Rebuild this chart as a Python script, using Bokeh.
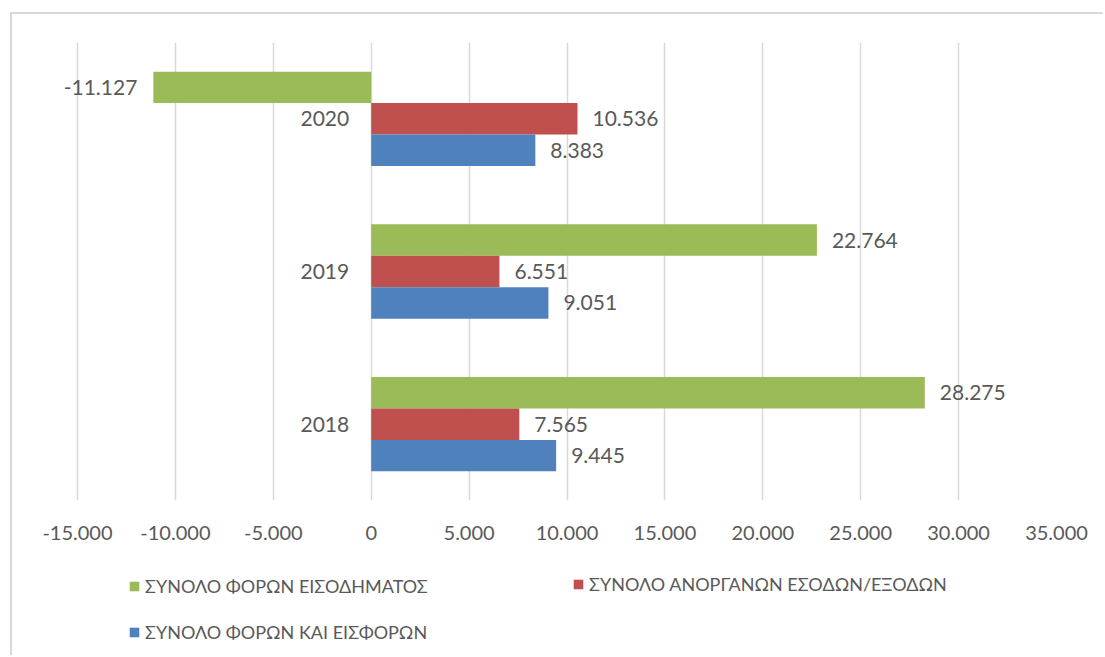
from bokeh.plotting import figure
from bokeh.layouts import column
from bokeh.models import (ColumnDataSource, FactorRange, FixedTicker, Legend, LegendItem)
from bokeh.transform import dodge
from bokeh.core.properties import value
from bokeh.embed import file_html
from bokeh.resources import INLINE

years = ["2018", "2019", "2020"]
income_tax = [28275, 22764, -11127]       # ΣΥΝΟΛΟ ΦΟΡΩΝ ΕΙΣΟΔΗΜΑΤΟΣ
inorganic = [7565, 6551, 10536]           # ΣΥΝΟΛΟ ΑΝΟΡΓΑΝΩΝ ΕΣΟΔΩΝ/ΕΞΟΔΩΝ
taxes_contrib = [9445, 9051, 8383]        # ΣΥΝΟΛΟ ΦΟΡΩΝ ΚΑΙ ΕΙΣΦΟΡΩΝ
series_names = ["ΣΥΝΟΛΟ ΦΟΡΩΝ ΕΙΣΟΔΗΜΑΤΟΣ",
                "ΣΥΝΟΛΟ ΑΝΟΡΓΑΝΩΝ ΕΣΟΔΩΝ/ΕΞΟΔΩΝ",
                "ΣΥΝΟΛΟ ΦΟΡΩΝ ΚΑΙ ΕΙΣΦΟΡΩΝ"]
x_ticks = [-15000, -10000, -5000, 0, 5000, 10000, 15000, 20000, 25000, 30000, 35000]

FONT = "Lato"
TXT = "#595959"
colors = ["#9BBB59", "#C0504D", "#4F81BD"]
offsets = [0.206, 0.0, -0.206]
bar_h = 0.206


def fmt(v):
    return f"{v:,}".replace(",", ".")


p = figure(width=1085, height=546, y_range=FactorRange(factors=years, range_padding=0),
           x_range=(-18218, 35000), output_backend="svg", toolbar_location=None,
           min_border_left=2, min_border_right=41, min_border_top=28, min_border_bottom=60)
p.outline_line_color = None
p.yaxis.visible = False
p.ygrid.grid_line_color = None
p.xgrid.grid_line_color = "#D9D9D9"
p.xgrid.grid_line_width = 1.5
p.xaxis.ticker = FixedTicker(ticks=x_ticks)
p.xaxis.major_label_overrides = {t: fmt(t) for t in x_ticks}
p.xaxis.axis_line_color = None
p.xaxis.major_tick_line_color = None
p.xaxis.minor_tick_line_color = None
p.xaxis.major_label_standoff = 19
p.xaxis.major_label_text_font = FONT
p.xaxis.major_label_text_font_size = "20px"
p.xaxis.major_label_text_color = TXT

for vals, col, off in zip([income_tax, inorganic, taxes_contrib], colors, offsets):
    src = ColumnDataSource(dict(
        year=years, val=vals,
        lab=[fmt(v) for v in vals],
        align=["left" if v >= 0 else "right" for v in vals],
        xoff=[15 if v >= 0 else -16 for v in vals]))
    p.hbar(y=dodge("year", off, range=p.y_range), right="val", left=0, height=bar_h,
           source=src, fill_color=col, line_color=None)
    p.text(x="val", y=dodge("year", off, range=p.y_range), text="lab", source=src,
           text_align="align", x_offset="xoff", text_baseline="middle",
           text_font=value(FONT), text_font_size="21px", text_color=TXT)

cat_src = ColumnDataSource(dict(year=years, x=[0, 0, 0]))
p.text(x="x", y="year", text="year", source=cat_src, text_align="right", x_offset=-22,
       text_baseline="middle", text_font=value(FONT), text_font_size="21px", text_color=TXT)

# legend strip below the chart (zero-size proxy bars carry the legend swatches)
p2 = figure(width=1085, height=89, x_range=(0, 1), y_range=(0, 1),
            output_backend="svg", toolbar_location=None,
            min_border_left=2, min_border_right=41, min_border_top=0, min_border_bottom=0)
p2.axis.visible = False
p2.grid.visible = False
p2.outline_line_color = None
leg_r = [p2.hbar(y=[0.5], right=[0], left=[0], height=0.0, fill_color=c, line_color=None)
         for c in colors]

common = dict(orientation="vertical", border_line_color=None, background_fill_alpha=0,
              padding=0, margin=0, glyph_width=12, glyph_height=12, label_standoff=5,
              label_height=20, spacing=24, label_text_font=FONT,
              label_text_font_size="18px", label_text_color=TXT)
leg1 = Legend(items=[LegendItem(label=series_names[0], renderers=[leg_r[0]]),
                     LegendItem(label=series_names[2], renderers=[leg_r[2]])],
              location=(114, 6), **common)
leg2 = Legend(items=[LegendItem(label=series_names[1], renderers=[leg_r[1]])],
              location=(558, 54), **common)
p2.add_layout(leg1, "center")
p2.add_layout(leg2, "center")

layout = column(p, p2, spacing=0)
layout.styles = {"margin-left": "10px", "margin-top": "12px",
                 "padding-right": "6px", "padding-bottom": "6px",
                 "border-left": "2px solid #D9D9D9", "border-top": "2px solid #D9D9D9"}

open("out.html", "w").write(file_html(layout, INLINE))
